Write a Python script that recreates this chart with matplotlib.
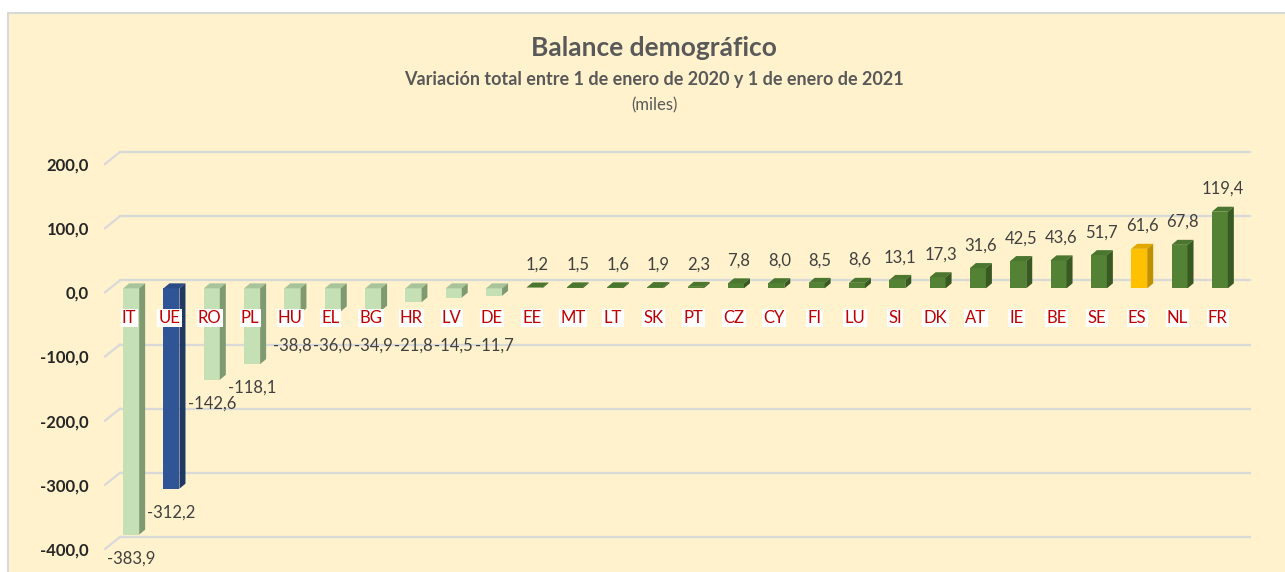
import matplotlib
matplotlib.use('Agg')
import matplotlib.pyplot as plt
from matplotlib.patches import Polygon, Rectangle
from matplotlib.transforms import ScaledTranslation

plt.rcParams['font.family'] = ['Lato', 'DejaVu Sans']

# Data (miles de personas)
countries = ['IT', 'UE', 'RO', 'PL', 'HU', 'EL', 'BG', 'HR', 'LV', 'DE',
             'EE', 'MT', 'LT', 'SK', 'PT', 'CZ', 'CY', 'FI', 'LU', 'SI',
             'DK', 'AT', 'IE', 'BE', 'SE', 'ES', 'NL', 'FR']
values = [-383.9, -312.2, -142.6, -118.1, -38.8, -36.0, -34.9, -21.8, -14.5, -11.7,
          1.2, 1.5, 1.6, 1.9, 2.3, 7.8, 8.0, 8.5, 8.6, 13.1,
          17.3, 31.6, 42.5, 43.6, 51.7, 61.6, 67.8, 119.4]
yticks = [-400, -300, -200, -100, 0, 100, 200]

# (front, top, side) colours
neg_col = ('#C5E0B4', '#A9C49A', '#7F9A70')
pos_col = ('#548235', '#4A7630', '#385A22')
eu_col = ('#2F5597', '#2A4C86', '#1F3864')
es_col = ('#FFC000', '#E0A800', '#BF9000')


def colours_for(name, v):
    if name == 'UE':
        return eu_col
    if name == 'ES':
        return es_col
    return neg_col if v < 0 else pos_col


def fmt(v):
    return f'{v:.1f}'.replace('.', ',')


W, H = 1285, 572
fig = plt.figure(figsize=(W / 100, H / 100), dpi=100)
fig.patch.set_facecolor('white')
fig.patches.append(Rectangle((8 / W, -0.01), 1.0, 1 - 13 / H + 0.01, transform=fig.transFigure,
                             facecolor='#FFF2CC', edgecolor='#D9D9D9', linewidth=1.5, zorder=-10))

ax_l, ax_r, ax_t, ax_b = 111, 1240, 160, 545
ax = fig.add_axes([ax_l / W, 1 - ax_b / H, (ax_r - ax_l) / W, (ax_b - ax_t) / H])
ax.set_facecolor('none')
ax.set_xlim(-0.5, len(countries) - 0.5)
ax.set_ylim(-400, 200)
for s in ax.spines.values():
    s.set_visible(False)

px_x = (ax_r - ax_l) / len(countries)   # pixels per category
px_y = (ax_b - ax_t) / 600.0            # pixels per unit
aw = ax_r - ax_l

# back-wall gridlines with a short oblique stub at the front
ytr = ax.get_yaxis_transform()
for v in yticks:
    ax.plot([(120 - ax_l) / aw, (1250 - ax_l) / aw], [v + 8 / px_y, v + 8 / px_y],
            transform=ytr, color='#D9D9D9', lw=1.6, zorder=1, clip_on=False)
    ax.plot([(105 - ax_l) / aw, (120 - ax_l) / aw], [v - 4 / px_y, v + 8 / px_y],
            transform=ytr, color='#D9D9D9', lw=1.6, zorder=1, clip_on=False)

# 3D-looking bars
bw = 16 / px_x
dx = 6 / px_x
dy = 5 / px_y
x = list(range(len(countries)))
cols = [colours_for(c, v) for c, v in zip(countries, values)]
ax.bar(x, values, width=bw, color=[c[0] for c in cols], zorder=3)
for i, v in enumerate(values):
    lo, hi = min(v, 0), max(v, 0)
    xl, xr = i - bw / 2, i + bw / 2
    ax.add_patch(Polygon([(xl, hi), (xr, hi), (xr + dx, hi + dy), (xl + dx, hi + dy)],
                         closed=True, facecolor=cols[i][1], edgecolor='none', zorder=3))
    ax.add_patch(Polygon([(xr, lo), (xr + dx, lo + dy), (xr + dx, hi + dy), (xr, hi)],
                         closed=True, facecolor=cols[i][2], edgecolor='none', zorder=3))

# value labels
for i, v in enumerate(values):
    if v >= 0:
        ax.annotate(fmt(v), (i + dx / 2, v + dy), xytext=(0, 7), textcoords='offset points',
                    ha='center', va='bottom', fontsize=12, color='#404040', zorder=5)
    else:
        ax.text(i, min(v - 37, -90), fmt(v), ha='center', va='center',
                fontsize=12, color='#404040', zorder=5)

# category labels next to the axis
for i, c in enumerate(countries):
    ax.text(i - 0.05, -46, c, ha='center', va='center', fontsize=12, color='#C00000', zorder=6,
            bbox=dict(boxstyle='square,pad=0.08', facecolor='white', edgecolor='none'))

ax.set_xticks([])
ax.set_yticks(yticks)
ax.set_yticklabels([fmt(v) for v in yticks], fontsize=12, fontweight='bold', color='#262626')
ax.tick_params(axis='y', length=0, pad=16)
for lab in ax.get_yticklabels():
    lab.set_transform(lab.get_transform() + ScaledTranslation(0, -0.04, fig.dpi_scale_trans))

cx = 654 / W
fig.text(cx, 1 - 48 / H, 'Balance demográfico', ha='center', va='center',
         fontsize=19, fontweight='bold', color='#595959')
fig.text(cx, 1 - 80 / H, 'Variación total entre 1 de enero de 2020 y 1 de enero de 2021',
         ha='center', va='center', fontsize=13, fontweight='bold', color='#595959')
fig.text(cx, 1 - 105 / H, '(miles)', ha='center', va='center', fontsize=12, color='#595959')

fig.savefig('out.png', dpi=100, facecolor=fig.get_facecolor())
